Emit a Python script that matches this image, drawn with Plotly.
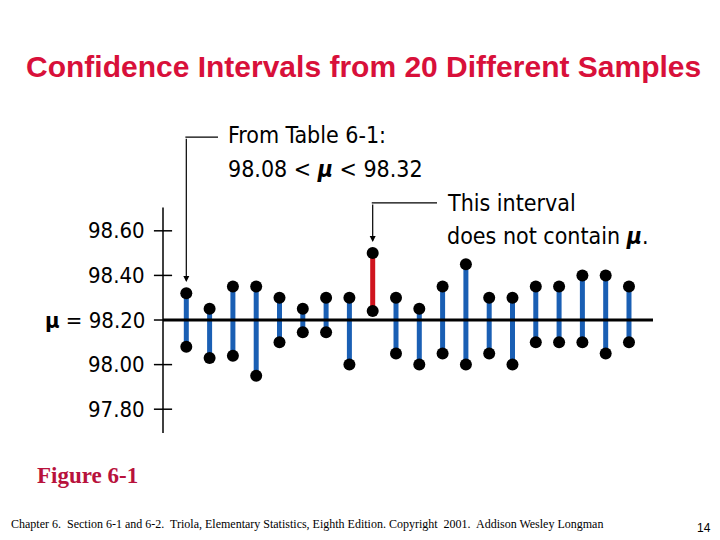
import plotly.graph_objects as go

# 20 sample confidence intervals (lower, upper)
sample_no = list(range(1, 21))
lower = [98.08, 98.03, 98.04, 97.95, 98.10, 98.145, 98.145, 98.00, 98.24, 98.05,
         98.00, 98.05, 98.00, 98.05, 98.00, 98.10, 98.10, 98.10, 98.05, 98.10]
upper = [98.32, 98.25, 98.35, 98.35, 98.30, 98.25, 98.30, 98.30, 98.50, 98.30,
         98.25, 98.35, 98.45, 98.30, 98.30, 98.35, 98.35, 98.40, 98.40, 98.35]
mu = 98.20
tick_vals = [97.80, 98.00, 98.20, 98.40, 98.60]
tick_text = ["97.80", "98.00", "<b>\u03bc</b>\u00a0=\u00a098.20", "98.40", "98.60"]

BLUE = "#1a5fb4"
RED = "#d0141e"
HAND = "Liberation Sans Narrow, DejaVu Sans Condensed, sans-serif"

fig = go.Figure()

# interval bars, red if it misses mu
for i, lo, hi in zip(sample_no, lower, upper):
    miss = lo > mu or hi < mu
    fig.add_trace(go.Scatter(x=[i, i], y=[lo, hi], mode="lines",
                             line=dict(color=RED if miss else BLUE, width=5),
                             hoverinfo="skip", showlegend=False))

# mu reference line
fig.add_trace(go.Scatter(x=[0, 21.03], y=[mu, mu], mode="lines",
                         line=dict(color="black", width=3), showlegend=False))

# endpoints
fig.add_trace(go.Scatter(x=sample_no + sample_no, y=lower + upper, mode="markers",
                         marker=dict(color="black", size=12), showlegend=False))

# hand-drawn style vertical axis with crossing ticks
fig.add_trace(go.Scatter(x=[0, 0], y=[97.693, 98.704], mode="lines",
                         line=dict(color="black", width=1.5), showlegend=False))
tx, ty = [], []
for v in tick_vals:
    tx += [-0.39, 0.39, None]
    ty += [v, v, None]
fig.add_trace(go.Scatter(x=tx, y=ty, mode="lines",
                         line=dict(color="black", width=1.5), showlegend=False))

for v, t in zip(tick_vals, tick_text):
    fig.add_annotation(x=-0.68, y=v, text=t, showarrow=False, xanchor="right",
                       yanchor="middle", font=dict(family=HAND, size=22, color="black"))

# callout 1
fig.add_annotation(x=1, y=98.37, ax=1, ay=99.02, axref="x", ayref="y",
                   showarrow=True, arrowhead=2, arrowsize=1, arrowwidth=1.2,
                   arrowcolor="black", text="")
fig.add_shape(type="line", x0=0.96, x1=2.36, y0=99.02, y1=99.02,
              line=dict(color="black", width=1.2))
fig.add_annotation(x=2.7, y=99.03, text="From Table 6-1:", showarrow=False,
                   xanchor="left", yanchor="middle",
                   font=dict(family=HAND, size=23, color="black"))
fig.add_annotation(x=2.7, y=98.875,
                   text="98.08 &lt; <b><i>\u03bc</i></b> &lt; 98.32", showarrow=False,
                   xanchor="left", yanchor="middle",
                   font=dict(family=HAND, size=23, color="black"))

# callout 2
fig.add_annotation(x=9, y=98.55, ax=9, ay=98.725, axref="x", ayref="y",
                   showarrow=True, arrowhead=2, arrowsize=1, arrowwidth=1.2,
                   arrowcolor="black", text="")
fig.add_shape(type="line", x0=8.96, x1=11.76, y0=98.725, y1=98.725,
              line=dict(color="black", width=1.2))
fig.add_annotation(x=12.1, y=98.725, text="This interval", showarrow=False,
                   xanchor="left", yanchor="middle",
                   font=dict(family=HAND, size=23, color="black"))
fig.add_annotation(x=12.1, y=98.575, text="does not contain <b><i>\u03bc</i></b>.",
                   showarrow=False, xanchor="left", yanchor="middle",
                   font=dict(family=HAND, size=23, color="black"))

# titles and footer
fig.add_annotation(x=0.505, y=0.876, xref="paper", yref="paper",
                   text="<b>Confidence Intervals from 20 Different Samples</b>",
                   showarrow=False, xanchor="center", yanchor="middle",
                   font=dict(family="Liberation Sans, Arial", size=30, color="#d8103a"))
fig.add_annotation(x=0.048, y=0.12, xref="paper", yref="paper",
                   text="<b>Figure 6-1</b>", showarrow=False, xanchor="left",
                   yanchor="middle",
                   font=dict(family="Liberation Serif, Times New Roman", size=23,
                             color="#b8123c"))
fig.add_annotation(x=0.013, y=0.03, xref="paper", yref="paper",
                   text="Chapter 6.  Section 6-1 and 6-2.  Triola, Elementary Statistics, "
                        "Eighth Edition. Copyright  2001.  Addison Wesley Longman",
                   showarrow=False, xanchor="left", yanchor="middle",
                   font=dict(family="Liberation Serif, Times New Roman", size=12,
                             color="black"))
fig.add_annotation(x=0.99, y=0.022, xref="paper", yref="paper", text="14",
                   showarrow=False, xanchor="right", yanchor="middle",
                   font=dict(family="Liberation Sans, Arial", size=12, color="black"))

fig.update_layout(
    width=720, height=540,
    margin=dict(l=0, r=0, t=0, b=0),
    paper_bgcolor="white", plot_bgcolor="white",
    xaxis=dict(range=[-6.996, 23.906], visible=False, fixedrange=True),
    yaxis=dict(range=[97.2135, 99.635], visible=False, fixedrange=True),
)

fig.write_html("out.html", config={"displayModeBar": False},
               post_script="document.body.style.margin='0';")
